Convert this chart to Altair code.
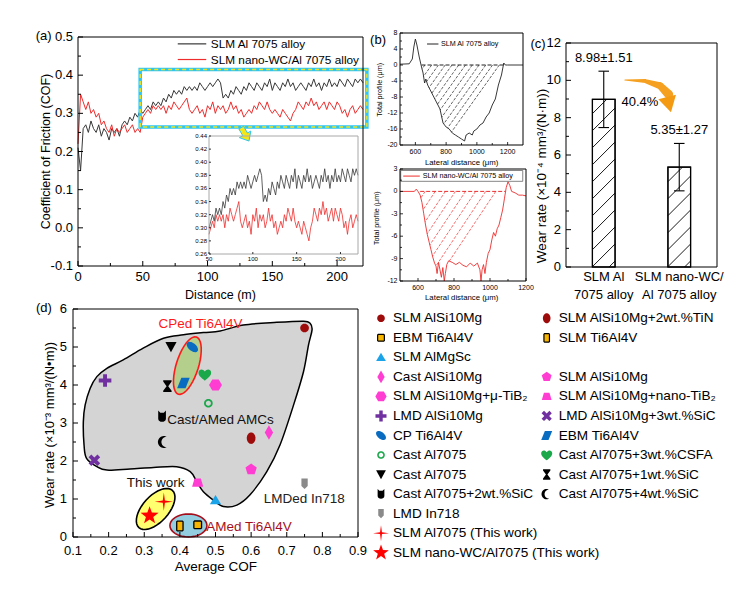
import numpy as np
import pandas as pd
import altair as alt

FONT = "Liberation Sans"
W, H = 734, 568

# ====================== DATA ======================
# (a) coefficient of friction vs sliding distance
DIST_M = [0, 2, 4, 6, 8, 10, 12, 14, 16, 18,
          20, 22, 24, 26, 28, 30, 32, 34, 36, 38,
          40, 42, 44, 46, 48, 50, 52, 54, 56, 58,
          60, 62, 64, 66, 68, 70, 72, 74, 76, 78,
          80, 82, 84, 86, 88, 90, 92, 94, 96, 98,
          100, 102, 104, 106, 108, 110, 112, 114, 116, 118,
          120, 122, 124, 126, 128, 130, 132, 134, 136, 138,
          140, 142, 144, 146, 148, 150, 152, 154, 156, 158,
          160, 162, 164, 166, 168, 170, 172, 174, 176, 178,
          180, 182, 184, 186, 188, 190, 192, 194, 196, 198,
          200, 202, 204, 206, 208, 210, 212, 214, 216, 218,
          220]
COF_AL7075 = [0.21, 0.15, 0.26, 0.27, 0.25, 0.28, 0.26, 0.25, 0.27, 0.24,
              0.26, 0.25, 0.23, 0.26, 0.25, 0.26, 0.24, 0.27, 0.28, 0.27,
              0.29, 0.28, 0.30, 0.29, 0.31, 0.30, 0.31, 0.32, 0.31, 0.33,
              0.32, 0.33, 0.32, 0.34, 0.33, 0.35, 0.34, 0.36, 0.35, 0.36,
              0.35, 0.37, 0.36, 0.37, 0.36, 0.37, 0.36, 0.38, 0.37, 0.36,
              0.37, 0.38, 0.37, 0.38, 0.39, 0.38, 0.34, 0.35, 0.34, 0.36,
              0.35, 0.37, 0.36, 0.35, 0.37, 0.36, 0.38, 0.37, 0.36, 0.38,
              0.37, 0.36, 0.38, 0.37, 0.39, 0.36, 0.38, 0.37, 0.36, 0.38,
              0.37, 0.39, 0.37, 0.38, 0.36, 0.37, 0.38, 0.37, 0.36, 0.38,
              0.37, 0.39, 0.37, 0.38, 0.36, 0.38, 0.37, 0.39, 0.37, 0.38,
              0.37, 0.39, 0.38, 0.37, 0.39, 0.38, 0.37, 0.39, 0.38, 0.39,
              0.38]
COF_WC_AL7075 = [0.22, 0.35, 0.33, 0.31, 0.33, 0.30, 0.31, 0.29, 0.30, 0.27,
                 0.28, 0.26, 0.25, 0.27, 0.24, 0.26, 0.25, 0.26, 0.27, 0.25,
                 0.26, 0.27, 0.25, 0.26, 0.25, 0.29, 0.30, 0.31, 0.30, 0.32,
                 0.31, 0.32, 0.31, 0.32, 0.30, 0.32, 0.31, 0.33, 0.32, 0.31,
                 0.32, 0.33, 0.34, 0.31, 0.30, 0.31, 0.32, 0.30, 0.31, 0.29,
                 0.32, 0.31, 0.33, 0.30, 0.32, 0.31, 0.32, 0.30, 0.31, 0.33,
                 0.31, 0.32, 0.30, 0.31, 0.29, 0.30, 0.31, 0.30, 0.32, 0.31,
                 0.33, 0.32, 0.31, 0.33, 0.31, 0.30, 0.31, 0.30, 0.29, 0.31,
                 0.30, 0.29, 0.28, 0.30, 0.31, 0.33, 0.32, 0.31, 0.33, 0.32,
                 0.34, 0.32, 0.33, 0.31, 0.32, 0.33, 0.31, 0.33, 0.32, 0.31,
                 0.33, 0.32, 0.30, 0.31, 0.29, 0.31, 0.32, 0.30, 0.31, 0.32,
                 0.31]
A_SERIES = ["SLM Al 7075 alloy", "SLM nano-WC/Al 7075 alloy"]
A_ZOOM_D = [48, 223]          # highlighted distance window
A_ZOOM_COF = [0.264, 0.415]   # highlighted COF window
A_XTICKS = [0, 50, 100, 150, 200]
A_XMINOR = [25, 75, 125, 175]
A_YTICKS = [-0.1, 0.0, 0.1, 0.2, 0.3, 0.4, 0.5]
A_YMINOR = [-0.05, 0.05, 0.15, 0.25, 0.35, 0.45]
IN_XTICKS = [50, 100, 150, 200]
IN_YTICKS = [0.26, 0.28, 0.30, 0.32, 0.34, 0.36, 0.38, 0.40, 0.42, 0.44]

# (b) cross-section profiles of wear tracks
B1_X = [500, 560, 580, 590, 600, 610, 625, 640, 650, 660,
        668, 680, 700, 720, 740, 760, 780, 800, 820, 840,
        860, 880, 900, 920, 930, 950, 970, 980, 1000, 1020,
        1040, 1060, 1080, 1100, 1120, 1140, 1160, 1175, 1185, 1200,
        1300]
B1_Y = [0.2, 0.3, 1.5, 4.5, 6.5, 5.0, 2.0, -0.5, -2.0, -4.5,
        -3.5, -5.0, -6.5, -8.0, -9.5, -11.0, -14.5, -15.5, -16.0, -17.0,
        -17.5, -18.0, -18.5, -19.0, -17.5, -17.0, -17.5, -16.5, -16.0, -15.0,
        -14.5, -13.0, -12.0, -10.0, -8.5, -5.0, -2.5, 0.5, 0.0, 0.0,
        0.0]
B1_ZERO = [640, 1174]
B2_X = [500, 580, 590, 600, 612, 622, 632, 642, 652, 662,
        672, 682, 692, 700, 706, 714, 722, 730, 738, 746,
        752, 760, 770, 790, 810, 830, 850, 870, 890, 910,
        930, 944, 950, 956, 964, 972, 980, 990, 1000, 1010,
        1020, 1030, 1040, 1050, 1060, 1070, 1080, 1090, 1100, 1110,
        1120, 1140, 1160, 1180, 1200]
B2_Y = [0.0, 0.0, 0.3, 0.0, -0.5, -1.5, -3.0, -4.5, -5.8, -6.8,
        -7.8, -8.8, -9.6, -10.0, -11.0, -9.5, -10.5, -11.5, -10.2, -12.0,
        -11.0, -9.8, -9.3, -9.5, -9.8, -9.5, -9.9, -10.1, -9.6, -10.0,
        -9.6, -10.5, -12.0, -10.5, -9.8, -11.0, -9.5, -8.3, -7.8, -6.5,
        -5.5, -6.0, -5.0, -4.5, -3.5, -2.5, -1.0, 0.5, 1.3, 0.8,
        0.0, -0.2, -0.5, -0.5, -0.6]
B2_ZERO = [612, 1086]
B1_LABEL = "SLM Al 7075 alloy"
B2_LABEL = "SLM nano-WC/Al 7075 alloy"
B_XTICKS = [600, 800, 1000, 1200]
B_XMINOR = [700, 900, 1100]
B1_YTICKS = [-20, -16, -12, -8, -4, 0, 4, 8]
B1_YMINOR = [-18, -14, -10, -6, -2, 2, 6]
B2_YTICKS = [-12, -9, -6, -3, 0, 3]
B2_YMINOR = [-10.5, -7.5, -4.5, -1.5, 1.5]

# (c) wear rate bars
C_LINES = [["SLM Al", "7075 alloy"], ["SLM nano-WC/", "Al 7075 alloy"]]
C_WEAR = [8.98, 5.35]
C_SD = [1.51, 1.27]
C_YTICKS = [0, 2, 4, 6, 8, 10, 12]
C_YMINOR = [1, 3, 5, 7, 9, 11]

# (d) wear rate vs average COF (literature comparison)
MAT_LABELS = ["SLM AlSi10Mg", "SLM AlSi10Mg+2wt.%TiN", "EBM Ti6Al4V", "SLM Ti6Al4V",
              "SLM AlMgSc", "Cast AlSi10Mg", "SLM AlSi10Mg", "SLM AlSi10Mg+μ-TiB₂",
              "SLM AlSi10Mg+nano-TiB₂", "LMD AlSi10Mg", "LMD AlSi10Mg+3wt.%SiC",
              "CP Ti6Al4V", "EBM Ti6Al4V", "Cast Al7075", "Cast Al7075+3wt.%CSFA",
              "Cast Al7075", "Cast Al7075+1wt.%SiC", "Cast Al7075+2wt.%SiC",
              "Cast Al7075+4wt.%SiC", "LMD In718", "SLM Al7075 (This work)",
              "SLM nano-WC/Al7075 (This work)"]
MAT_COF = [0.75, 0.60, 0.45, 0.40, 0.50, 0.65, 0.60, 0.50, 0.45, 0.19, 0.16,
           0.435, 0.41, 0.48, 0.47, 0.375, 0.365, 0.35, 0.355, 0.75, 0.355, 0.315]
MAT_WEAR = [5.50, 2.60, 0.32, 0.29, 0.97, 2.75, 1.78, 4.00, 1.43, 4.12, 2.02,
            5.00, 4.05, 3.52, 4.27, 5.00, 3.97, 3.17, 2.50, 1.40, 0.93, 0.56]
LEG_COL = [0, 1, 0, 1, 0, 0, 1, 0, 1, 0, 1, 0, 1, 0, 1, 0, 1, 0, 1, 0, 0, 0]
LEG_ROW = [0, 0, 1, 1, 2, 3, 3, 4, 4, 5, 5, 6, 6, 7, 7, 8, 8, 9, 9, 10, 11, 12]
D_XTICKS = [0.1, 0.2, 0.3, 0.4, 0.5, 0.6, 0.7, 0.8, 0.9]
D_XMINOR = [0.15, 0.25, 0.35, 0.45, 0.55, 0.65, 0.75, 0.85]
D_YTICKS = [0, 1, 2, 3, 4, 5, 6]
D_YMINOR = [0.5, 1.5, 2.5, 3.5, 4.5, 5.5]

BLOB_COF = [0.129, 0.134, 0.148, 0.167, 0.195, 0.241, 0.297, 0.354, 0.41, 0.466,
            0.513, 0.578, 0.672, 0.747, 0.766, 0.771, 0.761, 0.747, 0.719, 0.681,
            0.644, 0.597, 0.56, 0.522, 0.494, 0.466, 0.447, 0.429, 0.391, 0.326,
            0.26, 0.195, 0.167, 0.138, 0.131]
BLOB_WEAR = [3.03, 3.47, 3.91, 4.22, 4.44, 4.66, 4.97, 5.23, 5.32, 5.38,
             5.42, 5.58, 5.65, 5.68, 5.62, 5.45, 5.05, 4.35, 3.47, 2.42,
             1.72, 1.11, 0.84, 0.80, 0.97, 1.19, 1.46, 1.72, 1.85, 1.83,
             1.79, 1.76, 1.85, 2.07, 2.42]
ELL_NAMES = ["CPed Ti6Al4V", "This work", "AMed Ti6Al4V"]
ELL_COF = [0.421, 0.332, 0.424]
ELL_WEAR = [4.51, 0.737, 0.303]
NOTE_TEXT = ["CPed Ti6Al4V", "Cast/AMed AMCs", "This work", "LMDed In718", "AMed Ti6Al4V"]
NOTE_COF = [0.458, 0.514, 0.332, 0.749, 0.594]
NOTE_WEAR = [5.60, 3.08, 1.41, 0.99, 0.27]

# ====================== STYLE / LAYOUT ======================
def S(dom, rng):
    return alt.Scale(domain=dom, range=rng, nice=False, zero=False)


SA_X, SA_Y = S([0, 220], [70, 355]), S([-0.1, 0.5], [258, 29])
SI_X, SI_Y = S([50, 220], [201, 350]), S([0.26, 0.44], [246, 128])
SB1_X, SB1_Y = S([500, 1300], [392, 515]), S([-20, 8], [137, 25])
SB2_X, SB2_Y = S([500, 1200], [392, 518]), S([-12, 3], [273, 161])
SC_X, SC_Y = S([0, 2], [558, 709]), S([0, 12], [259, 35])
SD_X, SD_Y = S([0.1, 0.9], [65, 350]), S([0, 6], [529, 301])
SL_X, SL_Y = S([0, 1], [373, 538.7]), S([0, 12], [310.3, 544.7])

BLACK_LINE = "#383838"
RED_LINE = "#ee2c2c"
ORANGE = "#f5a020"


def xy(xf, yf, sx, sy):
    return dict(x=alt.X(xf, type="quantitative", scale=sx, axis=None),
                y=alt.Y(yf, type="quantitative", scale=sy, axis=None))


def frame(sx, sy, color="black", width=1.0):
    df = pd.DataFrame({"x0": [sx.domain[0]], "x1": [sx.domain[1]],
                       "y0": [sy.domain[0]], "y1": [sy.domain[1]]})
    return alt.Chart(df).mark_rect(filled=False, stroke=color, strokeWidth=width).encode(
        x2="x1:Q", y2="y1:Q", **xy("x0", "y0", sx, sy))


def seg_chart(df, sx, sy, **mk):
    return alt.Chart(df).mark_rule(**mk).encode(x2="x1:Q", y2="y1:Q", **xy("x0", "y0", sx, sy))


def text_chart(df, sx, sy, **mk):
    mk.setdefault("font", FONT)
    mk.setdefault("color", "black")
    return alt.Chart(df).mark_text(**mk).encode(text="t:N", **xy("x", "y", sx, sy))


def ticks(sx, sy, xv, yv, size, width=1.0):
    """Inward (Origin style) tick marks on the bottom and left frame edges."""
    out = []
    if xv:
        df = pd.DataFrame({"v": xv, "b": [sy.domain[0]] * len(xv)})
        out.append(alt.Chart(df).mark_rule(color="black", strokeWidth=width, y2Offset=-size).encode(
            y2="b:Q", **xy("v", "b", sx, sy)))
    if yv:
        df = pd.DataFrame({"v": yv, "b": [sx.domain[0]] * len(yv)})
        out.append(alt.Chart(df).mark_rule(color="black", strokeWidth=width, x2Offset=size).encode(
            x2="b:Q", **xy("b", "v", sx, sy)))
    return out


def tick_labels(sx, sy, xv, xl, yv, yl, size, xdy, ydx):
    out = []
    if xv:
        df = pd.DataFrame({"x": xv, "y": [sy.domain[0]] * len(xv), "t": xl})
        out.append(text_chart(df, sx, sy, align="center", baseline="top", dy=xdy, fontSize=size))
    if yv:
        df = pd.DataFrame({"x": [sx.domain[0]] * len(yv), "y": yv, "t": yl})
        out.append(text_chart(df, sx, sy, align="right", baseline="middle", dx=-ydx, fontSize=size))
    return out


def title_text(t, x, y, sx, sy, size, vertical=False, color="black"):
    mk = dict(align="center", baseline="middle", fontSize=size, color=color)
    if vertical:
        mk["angle"] = 270
    return text_chart(pd.DataFrame({"x": [x], "y": [y], "t": [t]}), sx, sy, **mk)


def poly(points):
    return "M" + " L".join(f"{x:.3f},{y:.3f}" for x, y in points) + " Z"


def ellipse_pts(rx, ry, rot=0.0, n=40):
    t = np.linspace(0, 2 * np.pi, n, endpoint=False)
    x, y = rx * np.cos(t), ry * np.sin(t)
    a = np.radians(rot)
    return list(zip(x * np.cos(a) - y * np.sin(a), x * np.sin(a) + y * np.cos(a)))


def rotate(points, rot):
    a = np.radians(rot)
    return [(x * np.cos(a) - y * np.sin(a), x * np.sin(a) + y * np.cos(a)) for x, y in points]


def star_pts(n, ro, ri):
    pts = []
    for i in range(2 * n):
        r = ro if i % 2 == 0 else ri
        a = -np.pi / 2 + i * np.pi / n
        pts.append((r * np.cos(a), r * np.sin(a)))
    return pts


def reg_poly(n, r, start=-90):
    return [(r * np.cos(np.radians(start + 360 * i / n)), r * np.sin(np.radians(start + 360 * i / n)))
            for i in range(n)]


PLUS = [(-0.28, -0.9), (0.28, -0.9), (0.28, -0.28), (0.9, -0.28), (0.9, 0.28), (0.28, 0.28),
        (0.28, 0.9), (-0.28, 0.9), (-0.28, 0.28), (-0.9, 0.28), (-0.9, -0.28), (-0.28, -0.28)]


def crescent():
    outer = [(0.85 * np.cos(np.radians(a)), 0.85 * np.sin(np.radians(a)))
             for a in np.linspace(-61.9, -298.1, 24)]
    inner = [(0.4 + 0.75 * np.cos(np.radians(a)), 0.75 * np.sin(np.radians(a)))
             for a in np.linspace(90, 270, 16)]
    return poly(outer + inner)


def ring(ro, ri):
    return poly(ellipse_pts(ro, ro, n=32)) + " " + poly(ellipse_pts(ri, ri, n=32)[::-1])


HEART = ("M0,0.85 C-0.35,0.55 -0.95,0.2 -0.9,-0.35 C-0.85,-0.85 -0.25,-0.9 0,-0.45 "
         "C0.25,-0.9 0.85,-0.85 0.9,-0.35 C0.95,0.2 0.35,0.55 0,0.85 Z")
CUP = ("M-0.55,-0.85 L-0.25,-0.55 L0.25,-0.55 L0.55,-0.85 L0.55,0.3 "
       "C0.55,0.9 -0.55,0.9 -0.55,0.3 Z")

MAT_SHAPES = [
    poly(ellipse_pts(0.62, 0.62)),
    poly(ellipse_pts(0.62, 0.82)),
    poly([(-0.45, -0.55), (0.45, -0.55), (0.55, -0.45), (0.55, 0.45), (0.45, 0.55),
          (-0.45, 0.55), (-0.55, 0.45), (-0.55, -0.45)]),
    poly([(-0.35, -0.7), (0.35, -0.7), (0.45, -0.6), (0.45, 0.6), (0.35, 0.7),
          (-0.35, 0.7), (-0.45, 0.6), (-0.45, -0.6)]),
    poly([(0, -0.75), (0.8, 0.6), (-0.8, 0.6)]),
    poly([(0, -1.05), (0.6, 0), (0, 1.05), (-0.6, 0)]),
    poly(reg_poly(5, 0.85)),
    poly(reg_poly(6, 0.92, start=0)),
    poly([(-0.45, -0.6), (0.45, -0.6), (0.8, 0.6), (-0.8, 0.6)]),
    poly(PLUS),
    poly(rotate(PLUS, 45)),
    poly(ellipse_pts(0.95, 0.55, rot=40)),
    poly([(-0.3, -0.75), (0.9, -0.75), (0.3, 0.75), (-0.9, 0.75)]),
    ring(0.62, 0.36),
    HEART,
    poly([(-0.8, -0.7), (0.8, -0.7), (0, 0.75)]),
    poly([(-0.6, -0.85), (0.6, -0.85), (0.6, -0.65), (0.12, 0), (0.6, 0.65), (0.6, 0.85),
          (-0.6, 0.85), (-0.6, 0.65), (-0.12, 0), (-0.6, -0.65)]),
    CUP,
    crescent(),
    poly([(-0.45, -0.75), (0.45, -0.75), (0.45, 0.3), (0, 0.75), (-0.45, 0.3)]),
    poly(star_pts(4, 1.3, 0.22)),
    poly(star_pts(5, 1.35, 0.55)),
]
MAT_FILLS = ["#9e0b0b", "#9e0b0b", "#f7b500", "#f7b500", "#1aa3e8", "#ff3dd2", "#ff3dd2",
             "#ff3dd2", "#ff3dd2", "#7030a0", "#7030a0", "#0a6cc0", "#0a6cc0", "#1aa84a",
             "#1aa84a", "#000000", "#000000", "#000000", "#000000", "#8a8a8a", "#ff0000",
             "#ff0000"]
MAT_STROKES = ["transparent", "transparent", "#000000", "#000000"] + ["transparent"] * 18
MAT_KEYS = [f"m{i:02d}" for i in range(len(MAT_LABELS))]

ELL_SHAPES = [poly(ellipse_pts(1.0, 0.37, rot=-72.5)),
              poly(ellipse_pts(1.0, 0.52, rot=-48)),
              poly(ellipse_pts(1.0, 0.62))]
ELL_SIZES = [3600, 2500, 1369]
ELL_FILLS = ["#b4cf8c", "#ffff70", "#93cde0"]
ELL_STROKES = ["#ff1a1a", "#000000", "#a50f1c"]


def fmt(vals, spec):
    return [format(v, spec) for v in vals]


# ====================== PANEL (a) ======================
df_a = pd.DataFrame({"d": DIST_M, "al": COF_AL7075, "wc": COF_WC_AL7075})
df_in = df_a[df_a["d"] >= 50]

a_layers = [
    alt.Chart(df_a).mark_line(color=BLACK_LINE, strokeWidth=1.0).encode(**xy("d", "al", SA_X, SA_Y)),
    alt.Chart(df_a).mark_line(color=RED_LINE, strokeWidth=1.0).encode(**xy("d", "wc", SA_X, SA_Y)),
]
box_df = pd.DataFrame({"x0": [A_ZOOM_D[0]], "x1": [A_ZOOM_D[1]],
                       "y0": [A_ZOOM_COF[0]], "y1": [A_ZOOM_COF[1]]})
a_layers += [
    alt.Chart(box_df).mark_rect(filled=False, stroke="#2ec5f2", strokeWidth=3.5).encode(
        x2="x1:Q", y2="y1:Q", **xy("x0", "y0", SA_X, SA_Y)),
    alt.Chart(box_df).mark_rect(filled=False, stroke="#f2e61a", strokeWidth=1.4,
                                strokeDash=[4, 3]).encode(
        x2="x1:Q", y2="y1:Q", **xy("x0", "y0", SA_X, SA_Y)),
]
ARROW_A = poly(rotate([(-0.35, -1), (0.35, -1), (0.35, 0), (0.85, 0), (0, 1), (-0.85, 0),
                       (-0.35, 0)], -30))
a_layers.append(
    alt.Chart(pd.DataFrame({"x": [129], "y": [0.245]})).mark_point(
        shape=ARROW_A, size=240, filled=True, fill="#f5e617", stroke="#2ec5f2",
        strokeWidth=1, opacity=1).encode(**xy("x", "y", SA_X, SA_Y)))
leg_a = pd.DataFrame({"x0": [77, 77], "x1": [99, 99], "y0": [0.482, 0.441],
                      "y1": [0.482, 0.441], "c": [BLACK_LINE, RED_LINE]})
a_layers.append(alt.Chart(leg_a).mark_rule(strokeWidth=1.2).encode(
    x2="x1:Q", y2="y1:Q", color=alt.Color("c:N", scale=None), **xy("x0", "y0", SA_X, SA_Y)))
a_layers.append(text_chart(pd.DataFrame({"x": [102.5, 102.5], "y": [0.482, 0.441],
                                         "t": A_SERIES}),
                           SA_X, SA_Y, align="left", baseline="middle", fontSize=11.8))
a_layers += ticks(SA_X, SA_Y, A_XTICKS, A_YTICKS, 5) + ticks(SA_X, SA_Y, A_XMINOR, A_YMINOR, 3)
a_layers += tick_labels(SA_X, SA_Y, A_XTICKS, fmt(A_XTICKS, "d"), A_YTICKS,
                        fmt(A_YTICKS, ".1f"), 13, 5, 5)
a_layers.append(title_text("Distance (m)", 110, -0.176, SA_X, SA_Y, 12.5))
a_layers.append(title_text("Coefficient of Friction (COF)", -25, 0.2, SA_X, SA_Y, 12.5, True))
a_layers.append(frame(SA_X, SA_Y))
a_layers.append(title_text("(a)", -26.5, 0.503, SA_X, SA_Y, 13))
panel_a = alt.layer(*a_layers)

# inset
in_layers = [
    alt.Chart(df_in).mark_line(color=BLACK_LINE, strokeWidth=0.8).encode(**xy("d", "al", SI_X, SI_Y)),
    alt.Chart(df_in).mark_line(color=RED_LINE, strokeWidth=0.8).encode(**xy("d", "wc", SI_X, SI_Y)),
    frame(SI_X, SI_Y, color="#a8a8a8", width=1.0),
]
in_layers += ticks(SI_X, SI_Y, IN_XTICKS, IN_YTICKS, 2, 0.8)
in_layers += tick_labels(SI_X, SI_Y, IN_XTICKS, fmt(IN_XTICKS, "d"), IN_YTICKS,
                         fmt(IN_YTICKS, ".2f"), 6, 1.5, 2)
panel_in = alt.layer(*in_layers)


# ====================== PANEL (b) ======================
def profile_hatch(xs, ys, starts, k):
    xs = np.asarray(xs, float)
    ys = np.asarray(ys, float)
    out = []
    for x0 in starts:
        x = float(x0)
        while x > xs[0]:
            x -= 0.5
            if np.interp(x, xs, ys) >= -(x0 - x) * k:
                break
        out.append((x0, 0.0, x, -(x0 - x) * k))
    return pd.DataFrame(out, columns=["x0", "y0", "x1", "y1"])


def px_per_unit(s):
    return abs(s.range[1] - s.range[0]) / abs(s.domain[1] - s.domain[0])


k1 = 1.4 * px_per_unit(SB1_X) / px_per_unit(SB1_Y)
hatch_b1 = profile_hatch(B1_X, B1_Y, list(range(662, 1170, 44)), k1)
k2 = 1.5 * px_per_unit(SB2_X) / px_per_unit(SB2_Y)
hatch_b2 = profile_hatch(B2_X, B2_Y, list(range(640, 1086, 56)), k2)

df_b1 = pd.DataFrame({"x": B1_X, "z": B1_Y})
df_b2 = pd.DataFrame({"x": B2_X, "z": B2_Y})

b1_layers = [
    seg_chart(hatch_b1, SB1_X, SB1_Y, color="#222222", strokeWidth=0.7, strokeDash=[3, 1.5]),
    seg_chart(pd.DataFrame({"x0": [B1_ZERO[0]], "x1": [B1_ZERO[1]], "y0": [0], "y1": [0]}),
              SB1_X, SB1_Y, color="#222222", strokeWidth=1, strokeDash=[4, 2]),
    alt.Chart(df_b1).mark_line(color="#222222", strokeWidth=0.9).encode(**xy("x", "z", SB1_X, SB1_Y)),
    seg_chart(pd.DataFrame({"x0": [676], "x1": [750], "y0": [5.25], "y1": [5.25]}),
              SB1_X, SB1_Y, color="#222222", strokeWidth=1),
    text_chart(pd.DataFrame({"x": [766], "y": [5.25], "t": [B1_LABEL]}), SB1_X, SB1_Y,
               align="left", baseline="middle", fontSize=7.2),
    frame(SB1_X, SB1_Y),
    title_text("(b)", 357, 6.3, SB1_X, SB1_Y, 13),
    title_text("Lateral distance (μm)", 901, -24.5, SB1_X, SB1_Y, 7.8),
    title_text("Total profile (μm)", 370, -6.2, SB1_X, SB1_Y, 7.2, True),
]
b1_layers += ticks(SB1_X, SB1_Y, B_XTICKS, B1_YTICKS, 3, 0.8)
b1_layers += ticks(SB1_X, SB1_Y, B_XMINOR, B1_YMINOR, 2, 0.8)
b1_layers += tick_labels(SB1_X, SB1_Y, B_XTICKS, fmt(B_XTICKS, "d"), B1_YTICKS,
                         fmt(B1_YTICKS, "d"), 7, 3, 2.5)
panel_b1 = alt.layer(*b1_layers)

b2_layers = [
    seg_chart(hatch_b2, SB2_X, SB2_Y, color=RED_LINE, strokeWidth=0.7, strokeDash=[3, 1.5]),
    seg_chart(pd.DataFrame({"x0": [B2_ZERO[0]], "x1": [B2_ZERO[1]], "y0": [0], "y1": [0]}),
              SB2_X, SB2_Y, color=RED_LINE, strokeWidth=1, strokeDash=[4, 2]),
    alt.Chart(df_b2).mark_line(color=RED_LINE, strokeWidth=0.9).encode(**xy("x", "z", SB2_X, SB2_Y)),
    alt.Chart(pd.DataFrame({"x0": [504], "x1": [1182], "y0": [1.35], "y1": [2.8]})).mark_rect(
        filled=True, fill="white", stroke="#666666", strokeWidth=0.8).encode(
        x2="x1:Q", y2="y1:Q", **xy("x0", "y0", SB2_X, SB2_Y)),
    seg_chart(pd.DataFrame({"x0": [518], "x1": [610], "y0": [2.05], "y1": [2.05]}),
              SB2_X, SB2_Y, color=RED_LINE, strokeWidth=1),
    text_chart(pd.DataFrame({"x": [626], "y": [2.05], "t": [B2_LABEL]}), SB2_X, SB2_Y,
               align="left", baseline="middle", fontSize=7.2),
    frame(SB2_X, SB2_Y),
    title_text("Lateral distance (μm)", 843, -14.27, SB2_X, SB2_Y, 7.8),
    title_text("Total profile (μm)", 370, -3.59, SB2_X, SB2_Y, 7.2, True),
]
b2_layers += ticks(SB2_X, SB2_Y, B_XTICKS, B2_YTICKS, 3, 0.8)
b2_layers += ticks(SB2_X, SB2_Y, B_XMINOR, B2_YMINOR, 2, 0.8)
b2_layers += tick_labels(SB2_X, SB2_Y, B_XTICKS, fmt(B_XTICKS, "d"), B2_YTICKS,
                         fmt(B2_YTICKS, "d"), 7, 3, 2.5)
panel_b2 = alt.layer(*b2_layers)

# ====================== PANEL (c) ======================
C_POS = [i + 0.5 for i in range(len(C_WEAR))]
C_HALF = 0.15
df_c = pd.DataFrame({"pos": C_POS, "w": C_WEAR, "sd": C_SD})
df_c["x0"] = df_c["pos"] - C_HALF
df_c["x1"] = df_c["pos"] + C_HALF
df_c["lo"] = df_c["w"] - df_c["sd"]
df_c["hi"] = df_c["w"] + df_c["sd"]
df_c["zero"] = 0.0
df_c["t"] = [f"{w:.2f}±{s:.2f}" for w, s in zip(C_WEAR, C_SD)]
df_c["ty"] = df_c["hi"] + 0.35


def bar_hatch(pos, half, top, sx, sy, gap=17.0, slope=1.0):
    pxx, pxy = px_per_unit(sx), px_per_unit(sy)
    w = 2 * half * pxx
    hp = top * pxy
    out = []
    c = -slope * w + 6
    while c < hp:
        u0 = max(0.0, -c / slope)
        u1 = min(w, (hp - c) / slope)
        if u1 > u0 + 0.5:
            out.append((pos - half + u0 / pxx, (slope * u0 + c) / pxy,
                        pos - half + u1 / pxx, (slope * u1 + c) / pxy))
        c += gap
    return out


hatch_c = pd.DataFrame(sum([bar_hatch(p, C_HALF, v, SC_X, SC_Y) for p, v in zip(C_POS, C_WEAR)], []),
                       columns=["x0", "y0", "x1", "y1"])
caps = pd.concat([
    pd.DataFrame({"x0": df_c["pos"] - 0.07, "x1": df_c["pos"] + 0.07, "y0": df_c["lo"], "y1": df_c["lo"]}),
    pd.DataFrame({"x0": df_c["pos"] - 0.07, "x1": df_c["pos"] + 0.07, "y0": df_c["hi"], "y1": df_c["hi"]}),
    pd.DataFrame({"x0": df_c["pos"], "x1": df_c["pos"], "y0": df_c["lo"], "y1": df_c["hi"]}),
])
reduction = (C_WEAR[0] - C_WEAR[1]) / C_WEAR[0] * 100
ARROW_C_X = [0.78, 1.05, 1.25, 1.36]
ARROW_C_Y = [10.02, 9.96, 9.70, 9.25]
ARROW_C_W = [1.0, 4.0, 7.0, 9.0]
cat_lab = pd.DataFrame({"x": [p for p in C_POS for _ in range(2)],
                        "y": [-0.54, -1.5] * len(C_POS),
                        "t": [ln for lines in C_LINES for ln in lines]})

c_layers = [
    alt.Chart(df_c).mark_rect(fill="white", stroke="black", strokeWidth=1.2).encode(
        x2="x1:Q", y2="w:Q", **xy("x0", "zero", SC_X, SC_Y)),
    seg_chart(hatch_c, SC_X, SC_Y, color="black", strokeWidth=0.9),
    alt.Chart(df_c).mark_rect(filled=False, stroke="black", strokeWidth=1.2).encode(
        x2="x1:Q", y2="w:Q", **xy("x0", "zero", SC_X, SC_Y)),
    seg_chart(caps, SC_X, SC_Y, color="black", strokeWidth=1.1),
    alt.Chart(df_c).mark_text(font=FONT, fontSize=13, baseline="bottom", color="black").encode(
        text="t:N", **xy("pos", "ty", SC_X, SC_Y)),
    alt.Chart(pd.DataFrame({"x": ARROW_C_X, "y": ARROW_C_Y, "w": ARROW_C_W,
                            "o": list(range(len(ARROW_C_X)))})).mark_trail(color=ORANGE).encode(
        size=alt.Size("w:Q", scale=None), order="o:Q", **xy("x", "y", SC_X, SC_Y)),
    alt.Chart(pd.DataFrame({"x": [1.365], "y": [8.7]})).mark_point(
        shape="triangle-down", size=330, filled=True, color="#f39a12", opacity=1,
        angle=346).encode(**xy("x", "y", SC_X, SC_Y)),
    title_text(f"{reduction:.1f}%", 0.98, 8.84, SC_X, SC_Y, 13),
    text_chart(cat_lab, SC_X, SC_Y, align="center", baseline="middle", fontSize=13),
    title_text("Wear rate (×10⁻⁴ mm³/(N·m))", -0.318, 4.88, SC_X, SC_Y, 13.5, True),
    frame(SC_X, SC_Y),
    title_text("(c)", -0.37, 11.95, SC_X, SC_Y, 13),
]
c_layers += ticks(SC_X, SC_Y, [], C_YTICKS, 5) + ticks(SC_X, SC_Y, [], C_YMINOR, 3)
c_layers += tick_labels(SC_X, SC_Y, [], [], C_YTICKS, fmt(C_YTICKS, "d"), 13, 0, 5)
panel_c = alt.layer(*c_layers)

# ====================== PANEL (d) ======================
fill_sc = alt.Scale(domain=MAT_KEYS, range=MAT_FILLS)
stroke_sc = alt.Scale(domain=MAT_KEYS, range=MAT_STROKES)
shape_sc = alt.Scale(domain=MAT_KEYS, range=MAT_SHAPES)

df_mat = pd.DataFrame({"k": MAT_KEYS, "label": MAT_LABELS, "cof": MAT_COF, "wear": MAT_WEAR,
                       "col": LEG_COL, "row": LEG_ROW})
df_blob = pd.DataFrame({"cof": BLOB_COF, "wear": BLOB_WEAR, "o": list(range(len(BLOB_COF)))})

d_layers = [
    alt.Chart(df_blob).mark_line(interpolate="cardinal-closed", fill="#d4d4d4",
                                 stroke="black", strokeWidth=1.5).encode(
        order="o:Q", **xy("cof", "wear", SD_X, SD_Y)),
]
for i in range(len(ELL_NAMES)):
    d_layers.append(
        alt.Chart(pd.DataFrame({"cof": [ELL_COF[i]], "wear": [ELL_WEAR[i]]})).mark_point(
            shape=ELL_SHAPES[i], size=ELL_SIZES[i], filled=True, fill=ELL_FILLS[i],
            stroke=ELL_STROKES[i], strokeWidth=1.6, opacity=1).encode(
            **xy("cof", "wear", SD_X, SD_Y)))
d_layers.append(
    alt.Chart(df_mat).mark_point(filled=True, size=196, strokeWidth=1.3, opacity=1).encode(
        fill=alt.Fill("k:N", scale=fill_sc, legend=None),
        stroke=alt.Stroke("k:N", scale=stroke_sc, legend=None),
        shape=alt.Shape("k:N", scale=shape_sc, legend=None),
        **xy("cof", "wear", SD_X, SD_Y)))
df_notes = pd.DataFrame({"x": NOTE_COF, "y": NOTE_WEAR, "t": NOTE_TEXT,
                         "c": ["#ff1a1a", "#111111", "#111111", "#222222", "#a50f1c"]})
d_layers.append(alt.Chart(df_notes).mark_text(font=FONT, fontSize=13.5, baseline="middle").encode(
    text="t:N", color=alt.Color("c:N", scale=None), **xy("x", "y", SD_X, SD_Y)))
d_layers += ticks(SD_X, SD_Y, D_XTICKS, D_YTICKS, 5) + ticks(SD_X, SD_Y, D_XMINOR, D_YMINOR, 3)
d_layers += tick_labels(SD_X, SD_Y, D_XTICKS, fmt(D_XTICKS, ".1f"), [], [], 13, 8, 6)
d_layers += tick_labels(SD_X, SD_Y, [], [], D_YTICKS, fmt(D_YTICKS, "d"), 13, 8, 6)
d_layers.append(title_text("Average COF", 0.501, -0.8, SD_X, SD_Y, 13.5))
d_layers.append(title_text("Wear rate (×10⁻³ mm³/(N•m))", 0.0354, 2.95, SD_X, SD_Y, 13, True))
d_layers.append(frame(SD_X, SD_Y))
d_layers.append(title_text("(d)", 0.0185, 6.03, SD_X, SD_Y, 13))
panel_d = alt.layer(*d_layers)

# legend of (d)
leg_layers = [
    alt.Chart(df_mat).mark_point(filled=True, size=150, strokeWidth=1.2, opacity=1).encode(
        fill=alt.Fill("k:N", scale=fill_sc, legend=None),
        stroke=alt.Stroke("k:N", scale=stroke_sc, legend=None),
        shape=alt.Shape("k:N", scale=shape_sc, legend=None),
        **xy("col", "row", SL_X, SL_Y)),
    alt.Chart(df_mat).mark_text(font=FONT, fontSize=13.6, align="left", baseline="middle",
                                dx=12, color="black").encode(
        text="label:N", **xy("col", "row", SL_X, SL_Y)),
]
panel_leg = alt.layer(*leg_layers)

chart = alt.layer(panel_a, panel_in, panel_b1, panel_b2, panel_c, panel_d, panel_leg).resolve_scale(
    x="independent", y="independent").properties(
    width=W, height=H, autosize=alt.AutoSizeParams(type="none"), padding=0,
    background="white").configure_view(stroke="transparent")

chart.save("out.html", embed_options={"renderer": "svg", "actions": False})
